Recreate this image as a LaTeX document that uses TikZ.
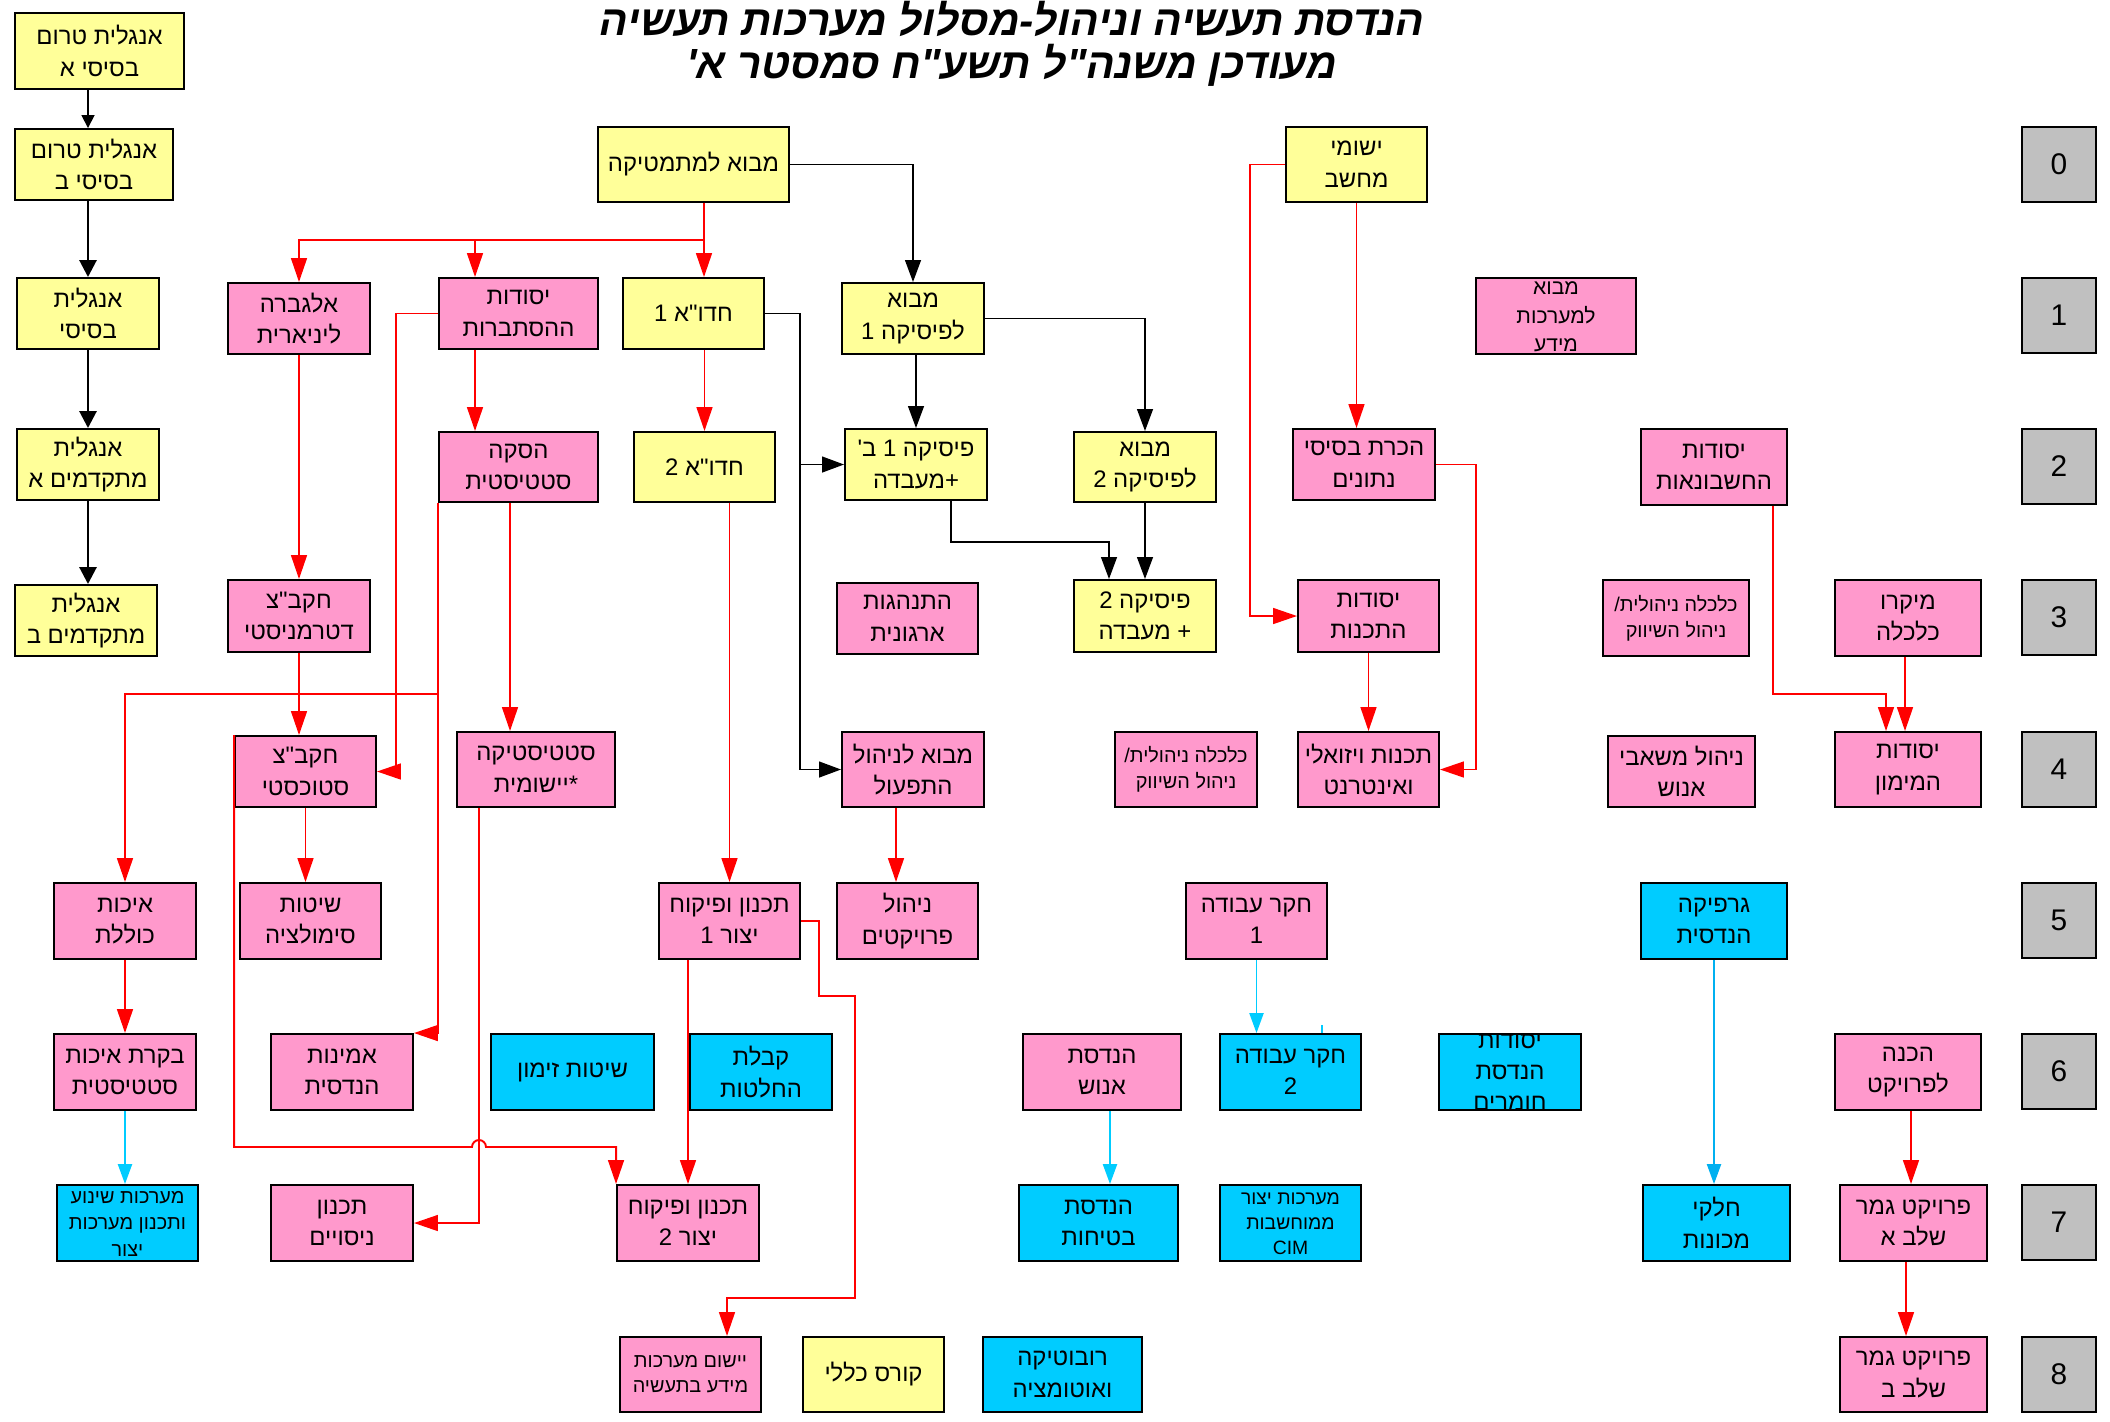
\documentclass[tikz,border=0pt]{standalone}
\usepackage{fontspec}
\setmainfont{Liberation Sans}[Script=Hebrew]
\newfontfamily\titlefont{Liberation Sans Bold}[Script=Hebrew,FakeSlant=0.2]
\TeXXeTstate=1
\usepackage{tikz}
\usetikzlibrary{arrows.meta}
\newcommand{\hebln}[1]{\beginR #1\endR}
\newcommand{\dq}{\textquotedbl}
\newcommand{\spill}[1]{\raisebox{-0.6ex}[0pt][0pt]{\begin{tabular}{@{}c@{}}#1\end{tabular}}}
% box from its corners (x1,y1) (x2,y2), in pixels of the sheet
\newcommand{\course}[6]{%
  \pgfmathsetmacro{\crsw}{(#4-#2)*0.02}%
  \pgfmathsetmacro{\crsh}{(#5-#3)*0.02}%
  \node[#1, minimum width=\crsw cm, minimum height=\crsh cm] (#6) at ({(#2+#4)/2},{(#3+#5)/2})}
\definecolor{crsyellow}{HTML}{FFFF99}
\definecolor{crspink}{HTML}{FF99CC}
\definecolor{crscyan}{HTML}{00CCFF}
\definecolor{crsgray}{HTML}{C0C0C0}
\definecolor{lnblue}{HTML}{00B0F0}
\tikzset{
  crs/.style={draw=black, line width=1.1pt, inner sep=0pt, align=center,
    font=\fontsize{13.6}{18}\selectfont},
  yel/.style={crs, fill=crsyellow},
  pnk/.style={crs, fill=crspink},
  cyn/.style={crs, fill=crscyan},
  lvl/.style={crs, fill=crsgray, font=\fontsize{17}{20}\selectfont},
  smalltxt/.style={font=\fontsize{11.3}{15}\selectfont},
  blkthin/.style={draw=black, line width=1pt, -{Triangle[length=7.4pt,width=7.4pt]}},
  blkthick/.style={draw=black, line width=1.6pt, -{Triangle[length=9.6pt,width=9.6pt]}},
  blkarr/.style={draw=black, line width=1pt, -{Triangle[length=12.5pt,width=9pt]}},
  redarr/.style={draw=red, line width=1.1pt, -{Triangle[length=13.6pt,width=9pt]}},
  cynarr/.style={draw=crscyan, line width=1pt, -{Triangle[length=11.3pt,width=8pt]}},
  bluarr/.style={draw=lnblue, line width=1pt, -{Triangle[length=11.3pt,width=8pt]}}
}

\begin{document}
\begin{tikzpicture}[x=0.02cm, y=-0.02cm]
  \useasboundingbox (0,0) rectangle (2110,1421);

  %%%%% TITLE %%%%%
  \node[font=\titlefont\fontsize{24}{24.4}\selectfont, align=center] (title) at (1010,44)
    {\hebln{הנדסת תעשיה וניהול-מסלול מערכות תעשיה}\\\hebln{מעודכן משנה\dq ל תשע\dq ח סמסטר א\textquotesingle}};

  %%%%% LEVELS %%%%%
  \foreach \k/\yt in {0/127,1/278,2/429,3/580,4/732,5/883,6/1034,7/1185,8/1337}
    \course{lvl}{2022}{\yt}{2096}{\yt+75}{lvl\k} {\k};

  %%%%% YELLOW %%%%%
  \course{yel}{15}{13}{184}{89}{engA} {\hebln{אנגלית טרום}\\\hebln{בסיסי א}};
  \course{yel}{15}{129}{173}{200}{engB} {\hebln{אנגלית טרום}\\\hebln{בסיסי ב}};
  \course{yel}{17}{278}{159}{349}{engBas} {\hebln{אנגלית}\\\hebln{בסיסי}};
  \course{yel}{17}{429}{159}{500}{engAdvA} {\hebln{אנגלית}\\\hebln{מתקדמים א}};
  \course{yel}{15}{585}{157}{656}{engAdvB} {\hebln{אנגלית}\\\hebln{מתקדמים ב}};
  \course{yel}{598}{127}{789}{202}{mathintro} {\hebln{מבוא למתמטיקה}};
  \course{yel}{623}{278}{764}{349}{hedva1} {\hebln{חדו\dq א 1}};
  \course{yel}{842}{283}{984}{354}{phys1} {\hebln{מבוא}\\\hebln{לפיסיקה 1}};
  \course{yel}{1286}{127}{1427}{202}{ishumi} {\hebln{ישומי}\\\hebln{מחשב}};
  \course{yel}{634}{432}{775}{502}{hedva2} {\hebln{חדו\dq א 2}};
  \course{yel}{845}{429}{987}{500}{phys1b} {\hebln{פיסיקה 1 ב\textquotesingle}\\\hebln{+מעבדה}};
  \course{yel}{1074}{432}{1216}{502}{phys2intro} {\hebln{מבוא}\\\hebln{לפיסיקה 2}};
  \course{yel}{1074}{580}{1216}{652}{phys2} {\hebln{פיסיקה 2}\\\hebln{+ מעבדה}};
  \course{yel}{803}{1337}{944}{1412}{general} {\hebln{קורס כללי}};

  %%%%% PINK %%%%%
  \course{pnk}{228}{283}{370}{354}{algebra} {\hebln{אלגברה}\\\hebln{ליניארית}};
  \course{pnk}{439}{278}{598}{349}{prob} {\hebln{יסודות}\\\hebln{ההסתברות}};
  \course{pnk, font=\fontsize{12}{16}\selectfont}{1476}{278}{1636}{354}{misintro}
    {\spill{\hebln{מבוא}\\\hebln{למערכות}\\\hebln{מידע}}};
  \course{pnk}{439}{432}{598}{502}{inference} {\hebln{הסקה}\\\hebln{סטטיסטית}};
  \course{pnk}{1293}{429}{1435}{500}{db} {\hebln{הכרת בסיסי}\\\hebln{נתונים}};
  \course{pnk}{1641}{429}{1787}{505}{acct} {\hebln{יסודות}\\\hebln{החשבונאות}};
  \course{pnk}{228}{580}{370}{652}{detOR} {\hebln{חקב\dq צ}\\\hebln{דטרמניסטי}};
  \course{pnk}{837}{583}{978}{654}{orgbeh} {\hebln{התנהגות}\\\hebln{ארגונית}};
  \course{pnk}{1298}{580}{1439}{652}{progbase} {\hebln{יסודות}\\\hebln{התכנות}};
  \course{pnk, smalltxt}{1603}{580}{1749}{656}{econ3} {\hebln{כלכלה ניהולית/}\\\hebln{ניהול השיווק}};
  \course{pnk}{1835}{580}{1981}{656}{micro} {\hebln{מיקרו}\\\hebln{כלכלה}};
  \course{pnk}{235}{736}{376}{807}{stochOR} {\hebln{חקב\dq צ}\\\hebln{סטוכסטי}};
  \course{pnk}{457}{732}{615}{807}{applstat} {\hebln{סטטיסטיקה}\\\hebln{*יישומית}};
  \course{pnk}{842}{732}{984}{807}{opmgmt} {\hebln{מבוא לניהול}\\\hebln{התפעול}};
  \course{pnk, smalltxt}{1115}{732}{1257}{807}{econ4} {\hebln{כלכלה ניהולית/}\\\hebln{ניהול השיווק}};
  \course{pnk}{1298}{732}{1439}{807}{visprog} {\hebln{תכנות ויזואלי}\\\hebln{ואינטרנט}};
  \course{pnk}{1608}{736}{1755}{807}{hrm} {\hebln{ניהול משאבי}\\\hebln{אנוש}};
  \course{pnk}{1835}{732}{1981}{807}{finance} {\hebln{יסודות}\\\hebln{המימון}};
  \course{pnk}{54}{883}{196}{959}{quality} {\hebln{איכות}\\\hebln{כוללת}};
  \course{pnk}{240}{883}{381}{959}{sim} {\hebln{שיטות}\\\hebln{סימולציה}};
  \course{pnk}{659}{883}{800}{959}{tp1} {\hebln{תכנון ופיקוח}\\\hebln{יצור 1}};
  \course{pnk}{837}{883}{978}{959}{projmgmt} {\hebln{ניהול}\\\hebln{פרויקטים}};
  \course{pnk}{1186}{883}{1327}{959}{ws1} {\hebln{חקר עבודה}\\1};
  \course{pnk}{54}{1034}{196}{1110}{spc} {\hebln{בקרת איכות}\\\hebln{סטטיסטית}};
  \course{pnk}{271}{1034}{413}{1110}{reliab} {\hebln{אמינות}\\\hebln{הנדסית}};
  \course{pnk}{1023}{1034}{1181}{1110}{ergo} {\hebln{הנדסת}\\\hebln{אנוש}};
  \course{pnk}{1835}{1034}{1981}{1110}{prepproj} {\hebln{הכנה}\\\hebln{לפרויקט}};
  \course{pnk}{271}{1185}{413}{1261}{doe} {\hebln{תכנון}\\\hebln{ניסויים}};
  \course{pnk}{617}{1185}{759}{1261}{tp2} {\hebln{תכנון ופיקוח}\\\hebln{יצור 2}};
  \course{pnk}{1840}{1185}{1987}{1261}{projA} {\hebln{פרויקט גמר}\\\hebln{שלב א}};
  \course{pnk, font=\fontsize{11.3}{14.2}\selectfont}{620}{1337}{761}{1412}{ismis}
    {\hebln{יישום מערכות}\\\hebln{מידע בתעשיה}};
  \course{pnk}{1840}{1337}{1987}{1412}{projB} {\hebln{פרויקט גמר}\\\hebln{שלב ב}};

  %%%%% CYAN %%%%%
  \course{cyn}{1641}{883}{1787}{959}{graphics} {\hebln{גרפיקה}\\\hebln{הנדסית}};
  \course{cyn}{491}{1034}{654}{1110}{sched} {\hebln{שיטות זימון}};
  \course{cyn}{690}{1034}{832}{1110}{decision} {\hebln{קבלת}\\\hebln{החלטות}};
  \course{cyn}{1220}{1034}{1361}{1110}{ws2} {\hebln{חקר עבודה}\\2};
  \course{cyn, font=\fontsize{13.6}{17.6}\selectfont}{1439}{1034}{1581}{1110}{materials}
    {\spill{\hebln{יסודות}\\\hebln{הנדסת}\\\hebln{חומרים}}};
  \course{cyn, font=\fontsize{11.3}{15}\selectfont}{57}{1185}{198}{1261}{conveyor}
    {\spill{\hebln{מערכות שינוע}\\\hebln{ותכנון מערכות}\\\hebln{יצור}}};
  \course{cyn}{1019}{1185}{1178}{1261}{safety} {\hebln{הנדסת}\\\hebln{בטיחות}};
  \course{cyn, font=\fontsize{11}{14.2}\selectfont}{1220}{1185}{1361}{1261}{cim}
    {\spill{\hebln{מערכות יצור}\\\hebln{ממוחשבות}\\CIM}};
  \course{cyn}{1643}{1185}{1790}{1261}{machparts} {\hebln{חלקי}\\\hebln{מכונות}};
  \course{cyn}{983}{1337}{1142}{1412}{robotics} {\hebln{רובוטיקה}\\\hebln{ואוטומציה}};

  %%%%% ENGLISH %%%%%
  \draw[blkthin] (engA.south -| 88,0) -- (engB.north -| 88,0);
  \draw[blkthick] (engB.south -| 88,0) -- (engBas.north -| 88,0);
  \draw[blkthick] (engBas.south -| 88,0) -- (engAdvA.north -| 88,0);
  \draw[blkthick] (engAdvA.south -| 88,0) -- (engAdvB.north -| 88,0);

  %%%%% MATH & PHYSICS %%%%%
  \draw[redarr] (mathintro.south -| 704,0) -- (hedva1.north -| 704,0);
  \draw[redarr] (mathintro.south -| 704,0) |- (algebra.north |- 0,240) -- (algebra.north);
  \draw[redarr] (mathintro.south -| 704,0) |- (475,240) -- (prob.north -| 475,0);
  \draw[blkarr] (mathintro.east) -| (phys1.north);
  \draw[redarr] (hedva1.south -| hedva2.north) -- (hedva2.north);
  \draw[blkarr] (hedva1.east) -- (hedva1.east -| 800,0) |- (phys1b.west);
  \draw[blkarr] (hedva1.east -| 800,0) |- (opmgmt.west);
  \draw[blkarr] (phys1.south -| phys1b.north) -- (phys1b.north);
  \draw[blkarr] (phys1.east) -| (phys2intro.north);
  \draw[blkarr] (phys1b.south -| 951,0) |- (1109,542) -- (phys2.north -| 1109,0);
  \draw[blkarr] (phys2intro.south) -- (phys2.north);

  %%%%% PROBABILITY & OR %%%%%
  \draw[redarr] (algebra.south) -- (detOR.north);
  \draw[redarr] (detOR.south) -- (stochOR.north -| detOR.south);
  \draw[redarr] (prob.west) -- (prob.west -| 396,0) |- (stochOR.east);
  \draw[redarr] (prob.south -| 475,0) -- (inference.north -| 475,0);
  \draw[redarr] (inference.south west) |- (reliab.north east);
  \draw[redarr] (inference.south west |- 0,694) -| (quality.north);
  \draw[redarr] (inference.south -| 510,0) -- (applstat.north -| 510,0);
  \draw[redarr] (applstat.south -| 479,0) |- (doe.east);
  \draw[redarr] (stochOR.north west) -- (stochOR.north west |- 0,1147) -- (472,1147)
    arc[start angle=180, end angle=360, radius=7] -- (tp2.north west |- 0,1147) -- (tp2.north west);
  \draw[redarr] (stochOR.south) -- (sim.north -| stochOR.south);
  \draw[redarr] (quality.south) -- (spc.north);
  \draw[cynarr] (spc.south) -- (conveyor.north -| spc.south);

  %%%%% PRODUCTION %%%%%
  \draw[redarr] (hedva2.south -| tp1.north) -- (tp1.north);
  \draw[redarr] (tp1.south -| tp2.north) -- (tp2.north);
  \draw[redarr] (tp1.east) -- (tp1.east -| 819,0) |- (855,996) |- (727,1298) -- (ismis.north -| 727,0);
  \draw[redarr] (opmgmt.south -| 896,0) -- (projmgmt.north -| 896,0);

  %%%%% COMPUTING %%%%%
  \draw[redarr] (ishumi.west) -- (ishumi.west -| 1250,0) |- (progbase.west);
  \draw[redarr] (ishumi.south) -- (ishumi.south |- db.north);
  \draw[redarr] (db.east) -- (db.east -| 1476,0) |- (visprog.east);
  \draw[redarr] (progbase.south) -- (visprog.north);

  %%%%% ECONOMICS & PROJECT %%%%%
  \draw[redarr] (acct.south -| 1773,0) |- (1886,694) -- (finance.north -| 1886,0);
  \draw[redarr] (micro.south -| 1905,0) -- (finance.north -| 1905,0);
  \draw[redarr] (prepproj.south -| 1911,0) -- (projA.north -| 1911,0);
  \draw[redarr] (projA.south -| 1906,0) -- (projB.north -| 1906,0);

  %%%%% CYAN LINKS %%%%%
  \draw[cynarr] (ws1.south) -- (ws1.south |- ws2.north);
  \draw[draw=crscyan, line width=1pt] (1322,1025) -- (ws2.north -| 1322,0);
  \draw[cynarr] (ergo.south -| 1110,0) -- (safety.north -| 1110,0);
  \draw[bluarr] (graphics.south) -- (graphics.south |- machparts.north);
\end{tikzpicture}
\end{document}
